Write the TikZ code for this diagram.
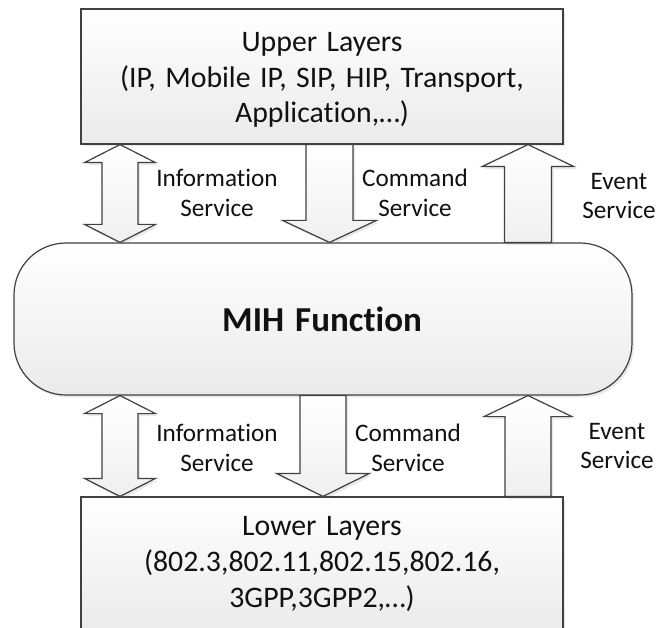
\documentclass[tikz,border=0pt]{standalone}
\usepackage{fontspec}
\setmainfont{Carlito}[Ligatures={NoCommon}, WordSpace=1.4]
\usetikzlibrary{calc,shadows}
\definecolor{edge}{HTML}{404040}
\definecolor{ink}{HTML}{111111}
\tikzset{
  soft/.style={drop shadow={opacity=0.18, shadow xshift=2pt, shadow yshift=-2.5pt}},
  panel/.style={draw=edge, line width=1.2pt, top color=white, bottom color=gray!16, soft},
  blkarrow/.style={draw=edge, line width=1.2pt, top color=white, bottom color=gray!12, soft},
  boxtext/.style={text=ink, align=center, font=\fontsize{29.8}{35.8}\selectfont},
  svc/.style={text=ink, align=center, font=\fontsize{25.2}{29.5}\selectfont},
}
% block arrow pointing down: start, tip, shaft half width, head half width, head length
\newcommand\blkdown[5]{%
  \draw[blkarrow] let \p1=#1, \p2=#2 in
    (\x1-#3,\y1) -- (\x1+#3,\y1) -- (\x1+#3,\y2+#5) -- (\x1+#4,\y2+#5) -- (\x2,\y2)
    -- (\x1-#4,\y2+#5) -- (\x1-#3,\y2+#5) -- cycle;}
% block arrow pointing up: start, tip, shaft half width, head half width, head length
\newcommand\blkup[5]{%
  \draw[blkarrow] let \p1=#1, \p2=#2 in
    (\x1-#3,\y1) -- (\x1+#3,\y1) -- (\x1+#3,\y2-#5) -- (\x1+#4,\y2-#5) -- (\x2,\y2)
    -- (\x1-#4,\y2-#5) -- (\x1-#3,\y2-#5) -- cycle;}
% two-headed block arrow: upper tip, lower tip, shaft half width, head half width, head length
\newcommand\blkboth[5]{%
  \draw[blkarrow] let \p1=#1, \p2=#2 in
    (\x1,\y1) -- (\x1+#4,\y1-#5) -- (\x1+#3,\y1-#5) -- (\x1+#3,\y2+#5) -- (\x1+#4,\y2+#5)
    -- (\x2,\y2) -- (\x1-#4,\y2+#5) -- (\x1-#3,\y2+#5) -- (\x1-#3,\y1-#5) -- (\x1-#4,\y1-#5) -- cycle;}

\begin{document}
\begin{tikzpicture}[x=1pt,y=-1pt]
\useasboundingbox (0,0) rectangle (659,628);

% layer boxes and the MIH function
\node[panel, minimum width=482pt, minimum height=135pt, inner sep=0pt] (upper) at (322,76.5) {};
\node[panel, minimum width=618pt, minimum height=152pt, inner sep=0pt, rounded corners=52pt] (mih) at (323,319) {};
\node[panel, minimum width=482pt, minimum height=134pt, inner sep=0pt] (lower) at (322,564) {};

\node[boxtext] (uppertext) at (322,80) {Upper Layers\\(IP, Mobile IP, SIP, HIP, Transport,\\Application,\ldots)};
\node[text=ink, font=\bfseries\fontsize{35}{42}\selectfont] (mihtext) at (322,319) {MIH Function};
\node[boxtext] (lowertext) at (322,564) {Lower Layers\\(802.3,802.11,802.15,802.16,\\3GPP,3GPP2,\ldots)};

% columns of the service arrows
\coordinate (xinfo) at (120,0);
\coordinate (xcmdA) at (329.5,0);
\coordinate (xcmdB) at (323,0);
\coordinate (xevt) at (528,0);

% upper side
\blkboth{(upper.south -| xinfo)}{(mih.north -| xinfo)}{18pt}{35.5pt}{18pt}
\blkdown{(upper.south -| xcmdA)}{(mih.north -| xcmdA)}{23.5pt}{47pt}{22pt}
\blkup{(mih.north -| xevt)}{(upper.south -| xevt)}{23.5pt}{46pt}{22pt}

% lower side
\blkboth{(mih.south -| xinfo)}{(lower.north -| xinfo)}{18pt}{35.5pt}{18pt}
\blkdown{(mih.south -| xcmdB)}{(lower.north -| xcmdB)}{23pt}{46.5pt}{23pt}
\blkup{(lower.north -| xevt)}{(mih.south -| xevt)}{23pt}{44pt}{21pt}

% service labels
\node[svc] (infoA) at (217,193) {Information\\Service};
\node[svc] (cmdA) at (415,193) {Command\\Service};
\node[svc] (evtA) at (619,196) {Event\\Service};
\node[svc] (infoB) at (217,448) {Information\\Service};
\node[svc] (cmdB) at (408,448) {Command\\Service};
\node[svc] (evtB) at (617,446) {Event\\Service};
\end{tikzpicture}
\end{document}
